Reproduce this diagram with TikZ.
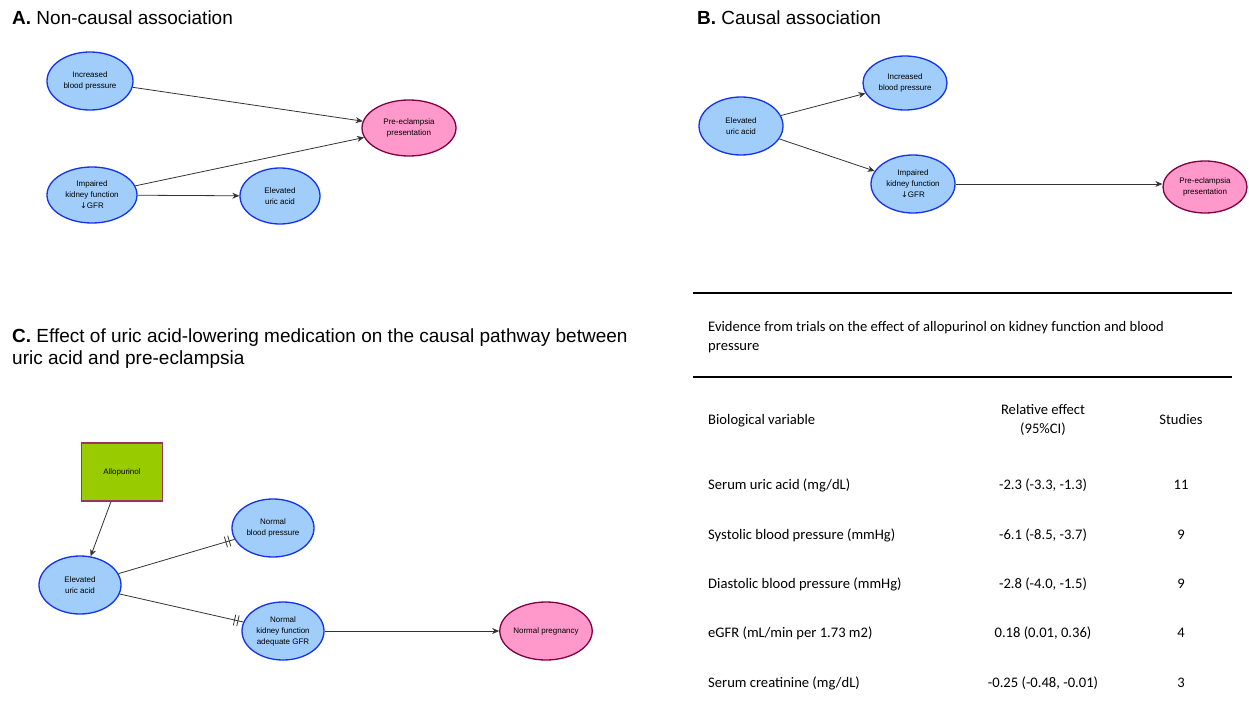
\documentclass[tikz,border=0pt]{standalone}
\usepackage{fontspec}
\setmainfont{Liberation Sans}
\newfontfamily\calibri{Carlito}
\usetikzlibrary{shapes.geometric,arrows.meta,decorations.markings}
\definecolor{nodeblue}{RGB}{20,50,235}
\definecolor{fillblue}{RGB}{160,205,250}
\definecolor{pinkfill}{RGB}{255,153,204}
\definecolor{maroonb}{RGB}{128,0,64}
\definecolor{greenfill}{RGB}{153,204,0}
\definecolor{greenborder}{RGB}{153,51,102}
\tikzset{
  blueell/.style={ellipse, draw=nodeblue, fill=fillblue, line width=1.3pt, inner sep=0pt, align=center, font=\fontsize{8}{11}\selectfont},
  pinkell/.style={ellipse, draw=maroonb, fill=pinkfill, line width=1.3pt, inner sep=0pt, align=center, font=\fontsize{8}{11}\selectfont},
  drugbox/.style={rectangle, draw=greenborder, fill=greenfill, line width=1.3pt, inner sep=0pt, align=center, font=\fontsize{8}{11}\selectfont},
  conn/.style={draw=black!80, line width=0.8pt, -{Stealth[length=7pt,width=6pt]}},
  cutconn/.style={draw=black!80, line width=0.8pt, postaction={decorate}, decoration={markings, mark=at position 1 with {\draw[black!80, line width=0.8pt] (-9pt,-5.5pt) -- (-9pt,5.5pt) (-5.5pt,-5.5pt) -- (-5.5pt,5.5pt);}}},
  head/.style={anchor=base west, inner sep=0pt, font=\fontsize{19}{22}\selectfont, align=left},
  tab/.style={inner sep=0pt, font=\calibri\fontsize{14.6}{19}\selectfont},
  rulebar/.style={line width=1.6pt}
}
\begin{document}
\begin{tikzpicture}[x=1pt,y=-1pt]
\useasboundingbox[fill=white] (0,0) rectangle (1249,703);

% ---------- headers ----------
\node[head] (hA) at (12,25) {\textbf{A.} Non-causal association};
\node[head] (hB) at (697,25) {\textbf{B.} Causal association};
\node[head] (hC) at (12,364) {\textbf{C.} Effect of uric acid-lowering medication on the causal pathway between\\uric acid and pre-eclampsia};

% ---------- panel A ----------
\node[blueell, minimum width=86pt, minimum height=58pt] (aBP) at (90,81) {Increased\\blood pressure};
\node[pinkell, minimum width=94pt, minimum height=56pt] (aPE) at (409,128) {Pre-eclampsia\\presentation};
\node[blueell, minimum width=90pt, minimum height=56pt] (aKF) at (92,195) {Impaired\\kidney function\\{\fontspec{DejaVu Sans}↓}GFR};
\node[blueell, minimum width=80pt, minimum height=56pt] (aUA) at (280,196) {Elevated\\uric acid};
\draw[conn] (aBP) -- (aPE);
\draw[conn] (aKF) -- (aPE);
\draw[conn] (aKF) -- (aUA);

% ---------- panel B ----------
\node[blueell, minimum width=84pt, minimum height=58pt] (bUA) at (741,126) {Elevated\\uric acid};
\node[blueell, minimum width=84pt, minimum height=54pt] (bBP) at (905,83) {Increased\\blood pressure};
\node[blueell, minimum width=84pt, minimum height=58pt] (bKF) at (913,184) {Impaired\\kidney function\\{\fontspec{DejaVu Sans}↓}GFR};
\node[pinkell, minimum width=84pt, minimum height=52pt] (bPE) at (1205,187) {Pre-eclampsia\\presentation};
\draw[conn] (bUA) -- (bBP);
\draw[conn] (bUA) -- (bKF);
\draw[conn] (bKF.east) -- (bKF.east -| bPE.west);

% ---------- panel C ----------
\node[drugbox, minimum width=81pt, minimum height=58pt] (cAl) at (122,472) {Allopurinol};
\node[blueell, minimum width=82pt, minimum height=58pt] (cUA) at (80,585) {Elevated\\uric acid};
\node[blueell, minimum width=82pt, minimum height=58pt] (cBP) at (273,528) {Normal\\blood pressure};
\node[blueell, minimum width=82pt, minimum height=58pt] (cKF) at (283,631) {Normal\\kidney function\\adequate GFR};
\node[pinkell, minimum width=82pt, minimum height=58pt] (cNP) at (546,631) {Normal pregnancy};
\draw[conn] (cAl) -- (cUA);
\draw[cutconn] (cUA) -- (cBP);
\draw[cutconn] (cUA) -- (cKF);
\draw[conn] (cKF.east) -- (cNP.west);

% ---------- table ----------
\coordinate (r1a) at (693,293); \coordinate (r1b) at (1232,293);
\coordinate (r2a) at (693,377); \coordinate (r2b) at (1232,377);
\draw[rulebar] (r1a) -- (r1b);
\draw[rulebar] (r2a) -- (r2b);
\node[tab, anchor=base west, align=left] (tTitle) at (708,350) {Evidence from trials on the effect of allopurinol on kidney function and blood\\pressure};
\node[tab, anchor=base west] (tH1) at (708,424) {Biological variable};
\node[tab, anchor=base, align=center] (tH2) at (1043,433) {Relative effect\\(95\%CI)};
\node[tab, anchor=base] (tH3) at (1181,424) {Studies};

\node[tab, anchor=base west] (v1) at (708,489) {Serum uric acid (mg/dL)};
\node[tab, anchor=base] (e1) at (1043,489) {-2.3 (-3.3, -1.3)};
\node[tab, anchor=base] (s1) at (1181,489) {11};

\node[tab, anchor=base west] (v2) at (708,539) {Systolic blood pressure (mmHg)};
\node[tab, anchor=base] (e2) at (1043,539) {-6.1 (-8.5, -3.7)};
\node[tab, anchor=base] (s2) at (1181,539) {9};

\node[tab, anchor=base west] (v3) at (708,588) {Diastolic blood pressure (mmHg)};
\node[tab, anchor=base] (e3) at (1043,588) {-2.8 (-4.0, -1.5)};
\node[tab, anchor=base] (s3) at (1181,588) {9};

\node[tab, anchor=base west] (v4) at (708,637) {eGFR (mL/min per 1.73 m2)};
\node[tab, anchor=base] (e4) at (1043,637) {0.18 (0.01, 0.36)};
\node[tab, anchor=base] (s4) at (1181,637) {4};

\node[tab, anchor=base west] (v5) at (708,687) {Serum creatinine (mg/dL)};
\node[tab, anchor=base] (e5) at (1043,687) {-0.25 (-0.48, -0.01)};
\node[tab, anchor=base] (s5) at (1181,687) {3};
\end{tikzpicture}
\end{document}
